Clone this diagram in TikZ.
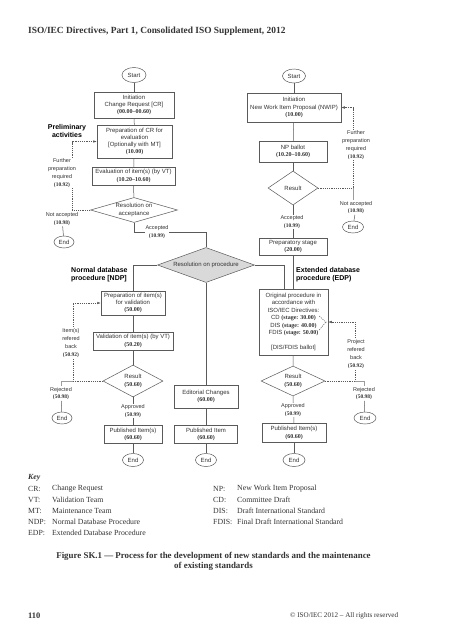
\documentclass[tikz,border=0pt]{standalone}
\usepackage{fontspec}
\setmainfont{Liberation Serif}
\setsansfont{Liberation Sans}
\newfontfamily\codefont{Liberation Serif}
\usetikzlibrary{shapes.geometric,arrows.meta}
\definecolor{linegray}{HTML}{5A5A5A}
\definecolor{textgray}{HTML}{333333}
\definecolor{procfill}{HTML}{D9D9D9}
\newcommand{\cde}[1]{{\codefont\bfseries #1}}
\begin{document}
\begin{tikzpicture}[x=1pt,y=-1pt,
  flow/.style={draw=linegray,line width=0.5pt},
  dsh/.style={draw=linegray,line width=0.5pt,dash pattern=on 1.2pt off 1pt},
  arr/.style={-{Latex[length=3.5pt,width=2.6pt]}},
  box/.style={rectangle,draw=linegray,line width=0.5pt,fill=white,align=center,
    font=\sffamily\fontsize{6}{7.3}\selectfont,text=textgray,inner xsep=1pt,inner ysep=0.5pt},
  dia/.style={diamond,draw=linegray,line width=0.5pt,fill=white,inner sep=0pt},
  dtext/.style={align=center,font=\sffamily\fontsize{6}{7.3}\selectfont,text=textgray,inner sep=0pt},
  term/.style={ellipse,draw=linegray,line width=0.5pt,fill=white,inner sep=0pt,
    font=\sffamily\fontsize{6}{7}\selectfont,text=textgray},
  lbl/.style={align=center,font=\sffamily\fontsize{5.5}{7.8}\selectfont,text=textgray,inner sep=0.6pt},
  lblw/.style={lbl,fill=white},
  hd/.style={align=left,font=\sffamily\bfseries\fontsize{7}{8.6}\selectfont,text=black,inner sep=0pt},
  keyt/.style={anchor=west,inner sep=0pt,font=\fontsize{7.8}{9}\selectfont,text=textgray}
]
\useasboundingbox (0,0) rectangle (453,640);
\fill[white] (0,0) rectangle (453,640);

% header
\node[anchor=west,inner sep=0pt,font=\bfseries\fontsize{9.4}{11}\selectfont,text=textgray] (hdr) at (28,31)
  {ISO/IEC Directives, Part 1, Consolidated ISO Supplement, 2012};

% ---------- left top column ----------
\node[term,minimum width=24,minimum height=15] (startL) at (134,75) {Start};
\node[box,minimum width=80,minimum height=26] (initL) at (134,105)
  {Initiation\\Change Request [CR]\\\cde{(00.00–00.60)}};
\node[box,minimum width=75,minimum height=33] (prepL) at (134.5,141.5)
  {Preparation of CR for\\evaluation\\{[Optionally with MT]}\\\cde{(10.00)}};
\node[box,minimum width=83,minimum height=18] (evalL) at (133.5,176)
  {Evaluation of item(s) (by VT)\\\cde{(10.20–10.60)}};
\node[dia,minimum width=87,minimum height=25] (accD) at (134,210) {};
\node[dtext] (accDt) at (accD) {Resolution on\\acceptance};
\node[hd,align=center] (prelim) at (67,131) {Preliminary\\activities};

\draw[flow] (startL) -- (initL);
\draw[flow] (initL) -- (prepL);
\draw[flow] (prepL) -- (evalL);
\draw[flow] (evalL) -- (accD);

\coordinate (cA) at (72,210);
\draw[dsh,arr] (accD.west) -- (cA) |- (prepL.west);
\node[lblw] (furL) at (62,173) {Further\\preparation\\required\\\cde{(10.92)}};
\node[lbl] (naL) at (62,219) {Not accepted\\\cde{(10.98)}};
\node[term,minimum width=20,minimum height=12] (endA) at (64,242) {End};
\draw[flow] (naL) -- (endA);

\node[dia,fill=procfill,minimum width=97,minimum height=35] (procD) at (206,265) {};
\node[dtext] (procDt) at (procD) {Resolution on procedure};
\node[lbl] (accL) at (157,232) {Accepted\\\cde{(10.99)}};
\draw[flow] (accD.south) |- (accL.west);
\draw[flow] (accL.east) -| (procD.north);

% ---------- right top column ----------
\node[term,minimum width=23,minimum height=14] (startR) at (294,76) {Start};
\node[box,minimum width=94,minimum height=29] (initR) at (294,107.5)
  {Initiation\\New Work Item Proposal (NWIP)\\\cde{(10.00)}};
\node[box,minimum width=68,minimum height=21] (npR) at (293,151.5)
  {NP ballot\\\cde{(10.20–10.60)}};
\node[dia,minimum width=50,minimum height=34] (resR) at (293,188) {};
\node[dtext] (resRt) at (resR) {Result};
\node[box,minimum width=68,minimum height=17] (prepst) at (293,246.5)
  {Preparatory stage\\\cde{(20.00)}};

\draw[flow] (startR) -- (initR);
\draw[flow] (initR) -- (npR);
\draw[flow] (npR) -- (resR);
\draw[flow] (resR.south) -- (prepst.north);
\node[lblw] (accR) at (292,222) {Accepted\\\cde{(10.99)}};

\coordinate (cB) at (353,188);
\draw[dsh,arr] (resR.east) -- (cB) |- (initR.east);
\node[lblw] (furR) at (356,145) {Further\\preparation\\required\\\cde{(10.92)}};
\node[lbl] (naR) at (356,207.5) {Not accepted\\\cde{(10.98)}};
\draw[flow,draw=linegray!60] (cB) -- (cB |- naR.north);
\node[term,minimum width=21,minimum height=12] (endB) at (353,227) {End};
\draw[flow] (naR) -- (endB);

\node[hd,anchor=west] (edph) at (296,274.5) {Extended database\\procedure (EDP)};
\node[hd,anchor=west] (ndph) at (71,274.5) {Normal database\\procedure [NDP]};

% ---------- NDP ----------
\node[box,minimum width=64,minimum height=24] (prepi) at (133,303)
  {Preparation of item(s)\\for validation\\\cde{(50.00)}};
\node[box,minimum width=80,minimum height=18] (valid) at (133,341)
  {Validation of item(s) (by VT)\\\cde{(50.20)}};
\node[dia,minimum width=60,minimum height=32] (resL) at (133,381) {};
\node[dtext] (resLt) at (resL) {Result\\\cde{(50.60)}};
\node[box,minimum width=58,minimum height=18] (pubL) at (133,434.5)
  {Published Item(s)\\\cde{(60.60)}};
\node[term,minimum width=21,minimum height=13] (endD) at (133,460) {End};

\draw[flow] (procD.west) -| (prepi.north);
\draw[flow] (prepi) -- (valid);
\draw[flow] (valid) -- (resL);
\draw[flow] (resL.south) -- (pubL.north);
\draw[flow] (pubL) -- (endD);
\node[lblw] (apL) at (133,411) {Approved\\\cde{(50.99)}};

\coordinate (cC) at (73,381);
\draw[dsh,arr] (resL.west) -- (cC) |- (prepi.west);
\node[lblw] (irb) at (71,343) {Item(s)\\refered\\back\\\cde{(50.92)}};
\node[lbl] (rejL) at (61,393.5) {Rejected\\\cde{(50.98)}};
\draw[flow,draw=linegray!60] (cC) -| (rejL.north);
\node[term,minimum width=20,minimum height=12] (endC) at (62,418) {End};
\draw[flow] (rejL) -- (endC);

% ---------- middle ----------
\node[box,minimum width=64,minimum height=23] (edit) at (206,396.5)
  {Editorial Changes\\\cde{(60.00)}};
\node[box,minimum width=63,minimum height=18] (pubM) at (206,434.5)
  {Published Item\\\cde{(60.60)}};
\node[term,minimum width=21,minimum height=13] (endE) at (206,460) {End};
\draw[flow] (procD.south) -- (edit.north);
\draw[flow] (edit) -- (pubM);
\draw[flow] (pubM) -- (endE);

% ---------- EDP ----------
\node[box,minimum width=69,minimum height=66,font=\sffamily\fontsize{6}{7.5}\selectfont] (orig) at (293.5,322)
  {Original procedure in\\accordance with\\ISO/IEC Directives:\\CD \cde{(stage: 30.00)}\\DIS \cde{(stage: 40.00)}\\FDIS \cde{(stage: 50.00)}\\[7.5pt]{[DIS/FDIS ballot]}};
\draw[flow] (procD.east) -| ([xshift=-9pt]orig.north);
\draw[flow] (prepst.south) -- (prepst.south |- orig.north);
\node[dia,minimum width=64,minimum height=30] (resE) at (293,381) {};
\node[dtext] (resEt) at (resE) {Result\\\cde{(50.60)}};
\node[box,minimum width=64,minimum height=19] (pubR) at (294,433)
  {Published Item(s)\\\cde{(60.60)}};
\node[term,minimum width=22,minimum height=13] (endG) at (294,460) {End};
\draw[flow] (orig) -- (resE);
\draw[flow] (resE.south) -- (pubR.north);
\draw[flow] (pubR) -- (endG);
\node[lblw] (apR) at (293,410) {Approved\\\cde{(50.99)}};

\coordinate (cD) at (355,381);
\draw[dsh,arr] (resE.east) -- (cD) |- (orig.east);
\draw[dsh] ([shift={(-9,-6)}]orig.east) -- ([xshift=-2pt,yshift=-0.5pt]orig.east);
\draw[dsh] ([shift={(-9,8)}]orig.east) -- ([xshift=-2pt,yshift=0.5pt]orig.east);
\node[lblw] (prb) at (356,354) {Project\\refered\\back\\\cde{(50.92)}};
\node[lbl] (rejR) at (364,393.5) {Rejected\\\cde{(50.98)}};
\draw[flow,draw=linegray!60] (cD) -| (rejR.north);
\node[term,minimum width=22,minimum height=12] (endF) at (365,418) {End};
\draw[flow] (rejR) -- (endF);

% ---------- key ----------
\node[keyt,font=\bfseries\itshape\fontsize{7.8}{9}\selectfont] (key) at (28,478) {Key};
\node[keyt] (k1a) at (28,489) {CR:};   \node[keyt] (k1b) at (52,489) {Change Request};
\node[keyt] (k2a) at (28,500) {VT:};   \node[keyt] (k2b) at (52,500) {Validation Team};
\node[keyt] (k3a) at (28,511) {MT:};   \node[keyt] (k3b) at (52,511) {Maintenance Team};
\node[keyt] (k4a) at (28,522) {NDP:};  \node[keyt] (k4b) at (52,522) {Normal Database Procedure};
\node[keyt] (k5a) at (28,533) {EDP:};  \node[keyt] (k5b) at (52,533) {Extended Database Procedure};
\node[keyt] (k6a) at (213,489) {NP:};  \node[keyt] (k6b) at (237,489) {New Work Item Proposal};
\node[keyt] (k7a) at (213,500) {CD:};  \node[keyt] (k7b) at (237,500) {Committee Draft};
\node[keyt] (k8a) at (213,511) {DIS:}; \node[keyt] (k8b) at (237,511) {Draft International Standard};
\node[keyt] (k9a) at (213,522) {FDIS:};\node[keyt] (k9b) at (237,522) {Final Draft International Standard};

% ---------- caption and footer ----------
\node[align=center,inner sep=0pt,font=\bfseries\fontsize{8.9}{9.8}\selectfont,text=textgray] (cap) at (213.5,561)
  {Figure SK.1 — Process for the development of new standards and the maintenance\\of existing standards};
\node[anchor=west,inner sep=0pt,font=\bfseries\fontsize{8.4}{9}\selectfont,text=textgray] (pg) at (28,616) {110};
\node[anchor=west,inner sep=0pt,font=\fontsize{7.1}{8}\selectfont,text=textgray] (copy) at (290,616) {© ISO/IEC 2012 – All rights reserved};
\end{tikzpicture}
\end{document}
